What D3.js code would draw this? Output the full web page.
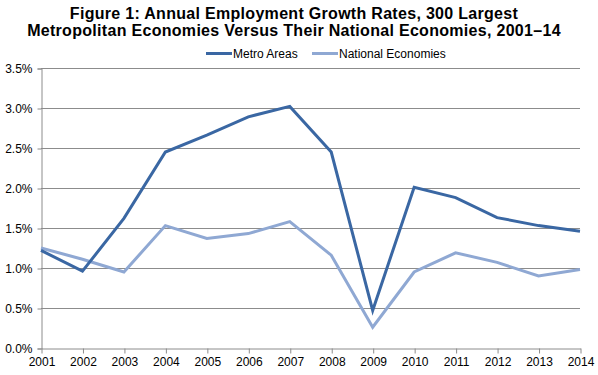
<!DOCTYPE html>
<html><head><meta charset="utf-8">
<script src="https://cdn.jsdelivr.net/npm/d3@7"></script>
<style>body{margin:0;background:#fff}svg{display:block}</style>
</head><body>
<script>
const years = [2001,2002,2003,2004,2005,2006,2007,2008,2009,2010,2011,2012,2013,2014];
const metroAreas = [1.22,0.96,1.62,2.45,2.66,2.89,3.02,2.45,0.47,2.01,1.88,1.63,1.53,1.46];
const nationalEconomies = [1.25,1.11,0.95,1.53,1.37,1.43,1.58,1.16,0.26,0.95,1.19,1.07,0.90,0.98];
const yTicks = [0,0.5,1.0,1.5,2.0,2.5,3.0,3.5];
const seriesNames = ["Metro Areas","National Economies"];
const colors = ["#3a67a3","#8fa8d3"];
const titleLines = ["Figure 1: Annual Employment Growth Rates, 300 Largest","Metropolitan Economies Versus Their National Economies, 2001\u201314"];

const W=598,H=375;
const svg=d3.select("body").append("svg").attr("width",W).attr("height",H);
const font="Liberation Sans, Arial, sans-serif";
const m={l:41,r:18,t:68,b:27};
const x=d3.scalePoint().domain(years).range([m.l,W-m.r]);
const y=d3.scaleLinear().domain([0,3.5]).range([H-m.b,m.t]);

// title
svg.append("g").selectAll("text").data(titleLines).join("text")
  .attr("x",294).attr("y",(d,i)=>19+i*17).attr("text-anchor","middle")
  .attr("font-family",font).attr("font-weight","bold").attr("font-size",16)
  .attr("letter-spacing",0.3).text(d=>d);

// gridlines
svg.append("g").selectAll("line").data(yTicks.filter(d=>d>0)).join("line")
  .attr("x1",m.l).attr("x2",W-m.r).attr("y1",d=>Math.round(y(d))+0.5).attr("y2",d=>Math.round(y(d))+0.5)
  .attr("stroke","#8c8c8c").attr("stroke-width",1);

// y axis
const ya=svg.append("g").attr("transform",`translate(${m.l+0.5},0.5)`)
  .call(d3.axisLeft(y).tickValues(yTicks).tickFormat(d=>d.toFixed(1)+"%").tickSize(4).tickPadding(5));
ya.selectAll("path,line").attr("stroke","#8c8c8c");
ya.selectAll("text").attr("font-family",font).attr("font-size",12).attr("fill","#000");

// x axis
const xa=svg.append("g").attr("transform",`translate(0.5,${H-m.b+0.5})`)
  .call(d3.axisBottom(x).tickSize(5).tickSizeOuter(0).tickPadding(4));
xa.selectAll("path,line").attr("stroke","#8c8c8c");
xa.selectAll("text").attr("font-family",font).attr("font-size",12).attr("fill","#000");

// lines
const series=[metroAreas,nationalEconomies];
const line=d3.line().x((d,i)=>x(years[i])).y(d=>y(d));
[1,0].forEach(k=>{
  svg.append("path").datum(series[k]).attr("d",line).attr("fill","none")
    .attr("stroke",colors[k]).attr("stroke-width",3).attr("stroke-linejoin","miter");
});

// legend
const lg=svg.append("g");
const lx=[206,312];
seriesNames.forEach((n,i)=>{
  lg.append("line").attr("x1",lx[i]).attr("x2",lx[i]+26).attr("y1",53.5).attr("y2",53.5)
    .attr("stroke",colors[i]).attr("stroke-width",3);
  lg.append("text").attr("x",lx[i]+27).attr("y",58).attr("font-family",font).attr("font-size",12).text(n);
});
</script>
</body></html>
